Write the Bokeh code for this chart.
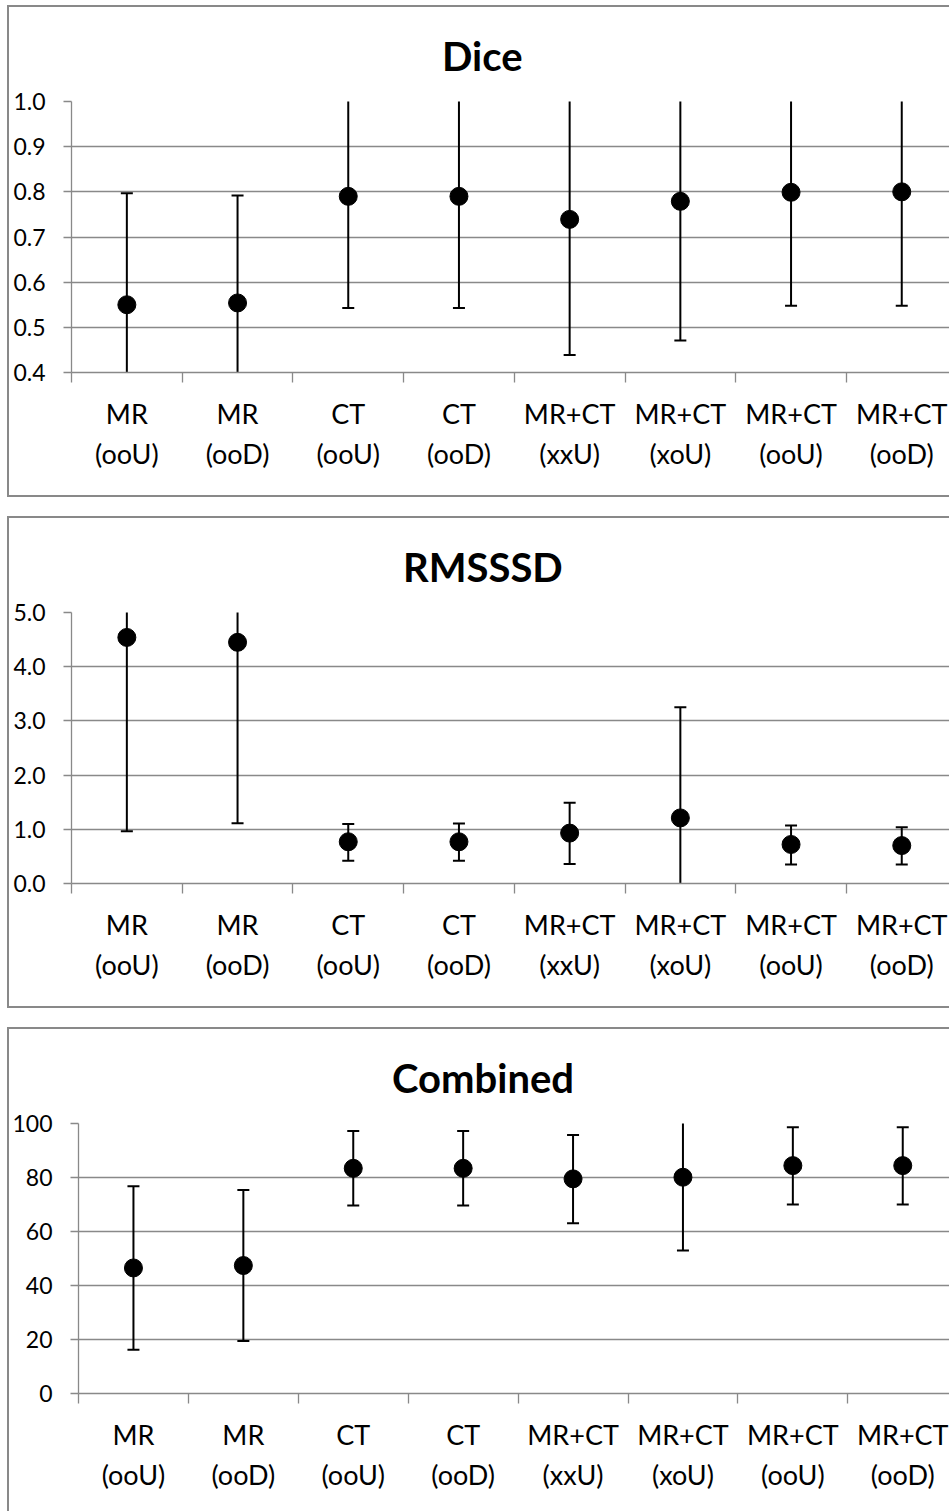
from bokeh.plotting import figure
from bokeh.models import FixedTicker, Range1d, NumeralTickFormatter, ColumnDataSource, Title
from bokeh.layouts import column
from bokeh.embed import file_html
from bokeh.resources import INLINE

categories = ["MR\n(ooU)", "MR\n(ooD)", "CT\n(ooU)", "CT\n(ooD)",
              "MR+CT\n(xxU)", "MR+CT\n(xoU)", "MR+CT\n(ooU)", "MR+CT\n(ooD)"]

dice_mean = [0.550, 0.554, 0.790, 0.790, 0.739, 0.779, 0.799, 0.800]
dice_low = [0.303, 0.316, 0.543, 0.543, 0.439, 0.471, 0.548, 0.548]
dice_high = [0.797, 0.792, 1.037, 1.037, 1.039, 1.087, 1.050, 1.052]
dice_ticks = [0.4, 0.5, 0.6, 0.7, 0.8, 0.9, 1.0]

rms_mean = [4.54, 4.45, 0.77, 0.77, 0.93, 1.21, 0.72, 0.70]
rms_low = [0.965, 1.11, 0.42, 0.42, 0.36, -0.83, 0.35, 0.35]
rms_high = [8.12, 7.79, 1.10, 1.105, 1.49, 3.25, 1.07, 1.04]
rms_ticks = [0.0, 1.0, 2.0, 3.0, 4.0, 5.0]

comb_mean = [46.5, 47.4, 83.4, 83.4, 79.5, 80.1, 84.4, 84.4]
comb_low = [16.2, 19.4, 69.6, 69.6, 63.1, 53.0, 70.0, 70.0]
comb_high = [76.8, 75.4, 97.2, 97.2, 95.7, 107.2, 98.6, 98.6]
comb_ticks = [0, 20, 40, 60, 80, 100]

FONT = "Lato"
GRAY = "#898989"
WIDTH = 949


def box_styles(height, top, bottom):
    g = f"linear-gradient({GRAY},{GRAY})"
    imgs = [g, g]
    sizes = [f"2px {(bottom if bottom is not None else height) - top + 2}px",
             "calc(100% - 7px) 2px"]
    poss = [f"7px {top}px", f"7px {top}px"]
    if bottom is not None:
        imgs.append(g)
        sizes.append("calc(100% - 7px) 2px")
        poss.append(f"7px {bottom}px")
    return {"background-image": ", ".join(imgs),
            "background-size": ", ".join(sizes),
            "background-position": ", ".join(poss),
            "background-repeat": "no-repeat"}


def make_panel(title, title_w, mean, low, high, yticks, fmt, left, pitch,
               height, top, frame_h, box_top, box_bottom):
    frame_w = WIDTH - left
    n = len(categories)
    xs = list(range(n))
    y0, y1 = yticks[0], yticks[-1]
    p = figure(width=WIDTH, height=height, output_backend="svg",
               toolbar_location=None,
               x_range=Range1d(-0.5, -0.5 + frame_w / pitch),
               y_range=Range1d(y0, y1),
               min_border_left=left, min_border_right=0,
               min_border_top=top, min_border_bottom=height - top - frame_h,
               outline_line_color=None, background_fill_color="white",
               border_fill_color=None,
               styles=box_styles(height, box_top, box_bottom))
    if "frame_align" in p.properties():
        p.frame_align = False
    src = ColumnDataSource(dict(x=xs, m=mean, lo=low, hi=high))
    p.segment(x0="x", y0="lo", x1="x", y1="hi", source=src,
              line_color="black", line_width=2)
    p.scatter(x="x", y="hi", source=src, marker="dash", size=12,
              line_color="black", line_width=2)
    p.scatter(x="x", y="lo", source=src, marker="dash", size=12,
              line_color="black", line_width=2)
    p.scatter(x="x", y="m", source=src, marker="circle", size=18,
              fill_color="black", line_color="black")

    # x axis
    xa = p.xaxis[0]
    xa.ticker = FixedTicker(ticks=xs, minor_ticks=[i - 0.5 for i in range(n + 1)])
    xa.major_label_overrides = {i: c for i, c in zip(xs, categories)}
    xa.major_tick_line_color = None
    xa.major_tick_out = 0
    xa.major_tick_in = 0
    xa.minor_tick_line_color = GRAY
    xa.minor_tick_line_width = 1.3
    xa.minor_tick_out = 10
    xa.minor_tick_in = 0
    xa.axis_line_color = GRAY
    xa.axis_line_width = 1.3
    xa.major_label_text_font = FONT
    xa.major_label_text_font_size = "27px"
    xa.major_label_text_color = "black"
    xa.major_label_text_line_height = 1.23
    xa.major_label_standoff = 14

    # y axis
    ya = p.yaxis[0]
    ya.ticker = FixedTicker(ticks=yticks)
    ya.formatter = NumeralTickFormatter(format=fmt)
    ya.major_tick_out = 8
    ya.major_tick_in = 0
    ya.major_tick_line_color = GRAY
    ya.major_tick_line_width = 1.3
    ya.minor_tick_line_color = None
    ya.axis_line_color = GRAY
    ya.axis_line_width = 1.3
    ya.major_label_text_font = FONT
    ya.major_label_text_font_size = "23px"
    ya.major_label_text_color = "black"
    ya.major_label_standoff = 18

    p.xgrid.grid_line_color = None
    p.ygrid.ticker = FixedTicker(ticks=yticks)
    p.ygrid.grid_line_color = GRAY
    p.ygrid.grid_line_width = 1.3

    p.add_layout(Title(text=title, align="left", offset=481 - left - title_w / 2,
                       vertical_align="bottom", standoff=44,
                       text_font=FONT, text_font_style="bold",
                       text_font_size="40px", text_color="black"), "above")
    return p


p1 = make_panel("Dice", 79, dice_mean, dice_low, dice_high, dice_ticks, "0.0",
                71, 110.7, 506, 101, 271, 5, 495)
p2 = make_panel("RMSSSD", 157, rms_mean, rms_low, rms_high, rms_ticks, "0.0",
                71, 110.7, 511, 106, 271, 10, 500)
p3 = make_panel("Combined", 179, comb_mean, comb_low, comb_high, comb_ticks, "0",
                78, 109.9, 494, 106, 270, 10, None)

layout = column(p1, p2, p3, spacing=0)

open("out.html", "w").write(file_html(layout, INLINE))
